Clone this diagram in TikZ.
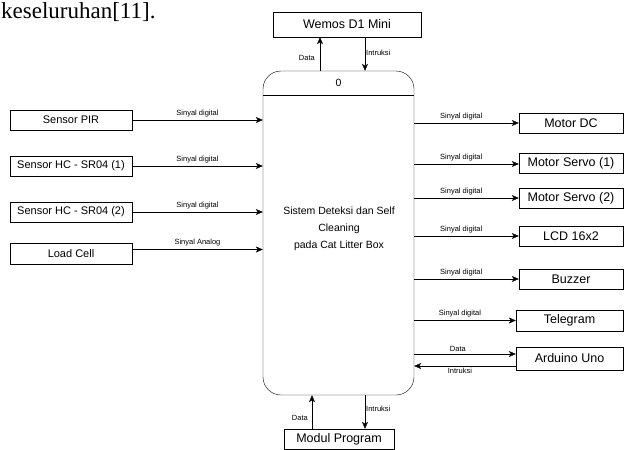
\documentclass[tikz,border=0pt]{standalone}
\usepackage{fontspec}
\setmainfont{Liberation Sans}
\newfontfamily\halaman{Liberation Serif}
\usetikzlibrary{positioning, arrows.meta}
\usetikzlibrary{calc}
\tikzset{
>={Stealth[length=7pt,width=6pt,inset=2pt]}, % arrow heads like the drawio ones
line width=0.8pt,
blok/.style={draw, inner sep=0pt, minimum height=20pt, font=\fontsize{11}{13}\selectfont}, % boxes on the left
blokkanan/.style={blok, font=\fontsize{12.5}{14}\selectfont}, % boxes on the right, top and bottom
alur/.style={->}, % the connectors
lbl/.style={font=\fontsize{7.5}{9}\selectfont, inner sep=1pt}, % text on the connectors
}

\begin{document}
\begin{tikzpicture}[x=1pt, y=-1pt]
      \useasboundingbox (0,0) rectangle (625,450);
      \node[anchor=base west, inner sep=0pt, font=\halaman\fontsize{23}{27}\selectfont] (teks) at (1,18) {keseluruhan[11].};
      % main process
      \node[draw, rounded corners=18pt, minimum width=151pt, minimum height=324pt] (utama) at (338.5,233) {};
      \draw ([yshift=-24pt]utama.north west) -- ([yshift=-24pt]utama.north east);
      \node (nol) at (338.5,83) {\fontsize{10.5}{12}\selectfont 0};
      \node[align=center, font=\fontsize{10.5}{17}\selectfont] (judul) at (339,229) {Sistem Deteksi dan Self\\Cleaning\\pada Cat Litter Box};
      % inputs
      \node[blok, minimum width=122pt] (pir) at (71,120) {Sensor PIR};
      \node[blok, minimum width=122pt] (hc1) at (71,166) {Sensor HC - SR04 (1)};
      \node[blok, minimum width=122pt] (hc2) at (71,212) {Sensor HC - SR04 (2)};
      \node[blok, minimum width=122pt, minimum height=21pt] (load) at (71,253.5) {Load Cell};
      % outputs
      \node[blokkanan, minimum width=104pt] (motor) at (571,123) {Motor DC};
      \node[blokkanan, minimum width=104pt] (servo1) at (571,163) {Motor Servo (1)};
      \node[blokkanan, minimum width=104pt] (servo2) at (571,198) {Motor Servo (2)};
      \node[blokkanan, minimum width=104pt] (lcd) at (571,236) {LCD 16x2};
      \node[blokkanan, minimum width=104pt] (buzzer) at (571,279) {Buzzer};
      \node[blokkanan, minimum width=107pt, minimum height=21pt] (tele) at (569.5,320.5) {Telegram};
      \node[blokkanan, minimum width=107pt, minimum height=23pt] (uno) at (569.5,358.5) {Arduino Uno};
      \node[blokkanan, minimum width=148pt, minimum height=25pt] (wemos) at (347,24.5) {Wemos D1 Mini};
      \node[blokkanan, minimum width=110pt] (modul) at (339,439) {Modul Program};
      % connectors
      \draw[alur] (pir) -- (pir -| utama.west) node[lbl, midway, above=2pt] {Sinyal digital};
      \draw[alur] (hc1) -- (hc1 -| utama.west) node[lbl, midway, above=2pt] {Sinyal digital};
      \draw[alur] (hc2) -- (hc2 -| utama.west) node[lbl, midway, above=2pt] {Sinyal digital};
      \draw[alur] ([yshift=4pt]load.east) -- ([yshift=4pt]load.east -| utama.west) node[lbl, midway, above=2pt] {Sinyal Analog};
      \draw[alur] (motor -| utama.east) -- (motor) node[lbl, pos=0.45, above=2pt] {Sinyal digital};
      \draw[alur] ([yshift=-1pt]servo1.west -| utama.east) -- ([yshift=-1pt]servo1.west) node[lbl, pos=0.45, above=2pt] {Sinyal digital};
      \draw[alur] (servo2 -| utama.east) -- (servo2) node[lbl, pos=0.45, above=2pt] {Sinyal digital};
      \draw[alur] (lcd -| utama.east) -- (lcd) node[lbl, pos=0.45, above=2pt] {Sinyal digital};
      \draw[alur] (buzzer -| utama.east) -- (buzzer) node[lbl, pos=0.45, above=2pt] {Sinyal digital};
      \draw[alur] (tele -| utama.east) -- (tele) node[lbl, pos=0.45, above=2pt] {Sinyal digital};
      \draw[alur] ([yshift=4.5pt]uno.west -| utama.east) -- ([yshift=4.5pt]uno.west) node[lbl, pos=0.43, above=1pt] {Data};
      \draw[alur] ([yshift=-7.5pt]uno.west) -- ([yshift=-7.5pt]uno.west -| utama.east) node[lbl, pos=0.55, below=1pt] {Intruksi};
      \draw[alur] ([xshift=-18.5pt]utama.north) -- ([xshift=-18.5pt]utama.north |- wemos.south) node[lbl, pos=0.38, left=4pt] {Data};
      \draw[alur] ([xshift=26.5pt]utama.north |- wemos.south) -- ([xshift=26.5pt]utama.north) node[lbl, pos=0.47, right=0pt] {Intruksi};
      \draw[alur] ([xshift=-26.5pt]utama.south |- modul.north) -- ([xshift=-26.5pt]utama.south) node[lbl, pos=0.32, left=3pt] {Data};
      \draw[alur] ([xshift=26.5pt]utama.south) -- ([xshift=26.5pt]utama.south |- modul.north) node[lbl, pos=0.41, right=0pt] {Intruksi};
    \end{tikzpicture}
\end{document}
